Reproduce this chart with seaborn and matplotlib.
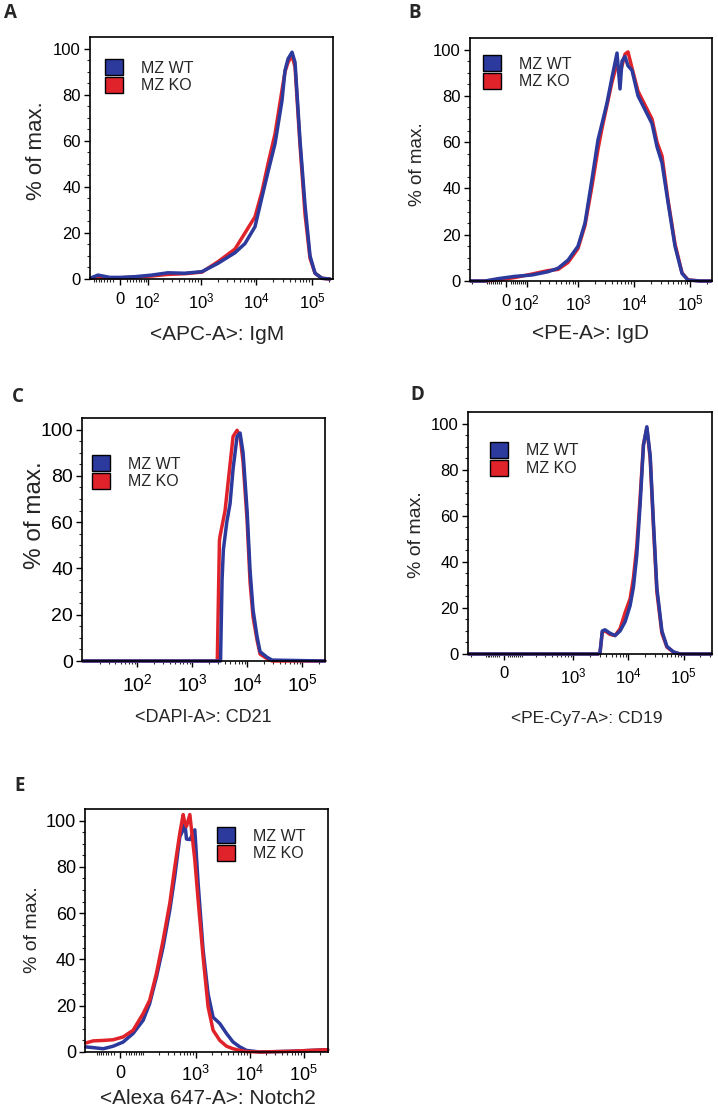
#!/usr/bin/env python3
# Flow histograms, MZ WT vs MZ KO, five markers

import pandas as pd
import seaborn as sns
import matplotlib.pyplot as plt
from matplotlib.patches import Patch

WT_COLOR = "#2b3a9c"
KO_COLOR = "#e0232a"

# A: <APC-A>: IgM
a_x = [-105, -73, -30, 0, 46, 122, 251, 517, 1050, 2040, 4130, 6260, 9470, 12660,
       16250, 21730, 29040, 32900, 37260, 43960, 49800, 61250, 75400, 92750,
       114100, 152600, 212000]
a_wt = [0.5, 1.7, 0.7, 0.7, 1.0, 1.7, 2.7, 2.5, 3.2, 6.8, 11.4, 15.4, 22.7, 35.6,
        46.5, 58.7, 77.5, 90.5, 95.5, 98.4, 94, 60, 32, 10, 2.5, 0.3, 0]
a_ko = [0.3, 0.8, 0.5, 0.5, 0.8, 1.3, 2.0, 2.3, 3.0, 7.5, 13, 20, 27, 38,
        50, 63, 82, 90, 94, 97, 92, 58, 28, 9, 2.5, 0.3, 0]

# B: <PE-A>: IgD
b_x = [-210, -101, -35, 39, 134, 283, 436, 662, 1000, 1337, 1784, 2285, 2694, 3310,
       4066, 4994, 5650, 6130, 6930, 7840, 9250, 11840, 15790, 21040, 25840, 31740,
       40620, 54160, 72200, 92350, 151300, 237800]
b_wt = [0, 0, 1, 2, 2.6, 4, 5.5, 9, 15, 25, 44, 61, 68, 77,
        88, 98.5, 83, 95, 97, 93, 91, 80, 74, 68, 58, 51,
        34, 15, 3.3, 0.4, 0, 0]
b_ko = [0, 0, 0.5, 1.5, 3, 4.5, 5, 8, 14, 24, 41, 57, 66, 76,
        86, 94, 90, 93, 98, 99, 92, 82, 76, 70, 60, 54,
        35, 16, 3.5, 0.5, 0, 0]

# C: <DAPI-A>: CD21
c_wt_x = [8, 3300, 3517, 3712, 4284, 4918, 5577, 6592, 7476, 8477, 10020, 11360,
          12880, 15230, 17270, 23150, 28550, 260000]
c_wt = [0, 0, 35, 48, 60, 68, 83, 97, 98.5, 90, 65, 39,
        22, 10.5, 4, 1.6, 0.4, 0]
c_ko_x = [8, 2880, 3150, 3234, 3990, 4522, 5577, 6592, 7476, 8477, 10020, 11360,
          12880, 15230, 17270, 23150, 28550, 260000]
c_ko = [0, 0, 52, 54, 65, 77, 97, 99.7, 97, 86, 61, 34,
        19, 9, 3, 1, 0, 0]

# D: <PE-Cy7-A>: CD19
d_x = [-225, 2814, 3058, 3366, 3770, 4653, 5731, 7073, 8723, 10750, 12340, 14220,
       16340, 18770, 21630, 24840, 28490, 32850, 40520, 49930, 65860, 87190, 320000]
d_wt = [0, 0, 0.5, 10, 10.5, 9, 8, 10, 14, 21, 29, 43,
        65, 90.6, 98.6, 86, 57, 28.6, 10, 3.3, 0.9, 0, 0]
d_ko = [0, 0, 0.5, 9.5, 10, 8.5, 8, 11, 18, 24, 33, 47,
        68, 91, 98, 85, 55, 27, 9, 3, 0.8, 0, 0]

# E: <Alexa 647-A>: Notch2
e_x = [-160, -111, -61, -23, 11, 47, 92, 130, 180, 244, 328, 408, 507, 585, 629,
       676, 780, 965, 1111, 1377, 1704, 2109, 2808, 3737, 4953, 6589, 8770, 15470,
       55460, 280000]
e_wt = [2.2, 1.9, 1.4, 2.5, 4.3, 8, 13.7, 21, 32.5, 45.5, 61.4, 76, 93, 96, 99,
        92, 91.8, 96, 73, 44, 25, 15, 12.3, 8, 4.3, 2.2, 0.7, 0,
        0.3, 1]
e_ko = [3.9, 4.8, 5, 5.3, 6.5, 9.4, 16.6, 22.4, 34, 48.4, 64.3, 80, 94.6, 102.6, 99,
        97.5, 102.6, 83, 65.8, 41, 19.5, 9.4, 5, 2.5, 1.4, 0.7, 0.2, 0,
        0.3, 1]

W, H = 718, 1113

# box = (left, top, right, bottom) in pixels; label positions are centres in pixels
panels = [
    dict(letter="A", label="<APC-A>: IgM", wt=(a_x, a_wt), ko=(a_x, a_ko),
         box=(90, 37, 333, 279), lw=70, xlim=(-111, 240400),
         ticks=[0, 100, 1000, 10000, 100000], leg=(0.062, 0.909), ko_top=False,
         letter_xy=(10, 13), xl_xy=(217, 334), yl_xy=(36, 151),
         xl_fs=15, yl_fs=16, tk_fs=12),
    dict(letter="B", label="<PE-A>: IgD", wt=(b_x, b_wt), ko=(b_x, b_ko),
         box=(470, 38, 712, 281), lw=104, xlim=(-216, 247600),
         ticks=[0, 100, 1000, 10000, 100000], leg=(0.054, 0.930), ko_top=False,
         letter_xy=(415, 13), xl_xy=(591, 333), yl_xy=(417, 164),
         xl_fs=15, yl_fs=13.6, tk_fs=12),
    dict(letter="C", label="<DAPI-A>: CD21", wt=(c_wt_x, c_wt), ko=(c_ko_x, c_ko),
         box=(82, 418, 325, 661), lw=10, xlim=(7.5, 261500),
         ticks=[100, 1000, 10000, 100000], leg=(0.041, 0.848), ko_top=False,
         letter_xy=(18, 397), xl_xy=(203, 718), yl_xy=(35, 515),
         xl_fs=13, yl_fs=17.5, tk_fs=14),
    dict(letter="D", label="<PE-Cy7-A>: CD19", wt=(d_x, d_wt), ko=(d_x, d_ko),
         box=(468, 412, 712, 654), lw=110, xlim=(-232, 328000),
         ticks=[0, 1000, 10000, 100000], leg=(0.090, 0.877), ko_top=False,
         letter_xy=(417, 395), xl_xy=(587, 718), yl_xy=(416.5, 535),
         xl_fs=12.5, yl_fs=14, tk_fs=12),
    dict(letter="E", label="<Alexa 647-A>: Notch2", wt=(e_x, e_wt), ko=(e_x, e_ko),
         box=(85, 809, 328, 1052), lw=79, xlim=(-166, 284000),
         ticks=[0, 1000, 10000, 100000], leg=(0.543, 0.926), ko_top=True,
         letter_xy=(20, 786), xl_xy=(208, 1098), yl_xy=(32.5, 930),
         xl_fs=15, yl_fs=14, tk_fs=13),
]


def tick_label(v):
    if v == 0:
        return "0"
    return "$10^{%d}$" % (len(str(int(v))) - 1)


def minor_ticks(lo, hi):
    out = []
    for k in range(1, 6):
        for m in range(2, 10):
            for v in (m * 10 ** k, -m * 10 ** k):
                if lo < v < hi:
                    out.append(v)
    return out


def draw_panel(fig, p):
    l, t, r, b = p["box"]
    aw, ah = r - l, b - t
    ax = fig.add_axes([l / W, 1 - b / H, aw / W, ah / H])
    ax.set_xscale("asinh", linear_width=p["lw"])

    series = [("MZ WT", p["wt"], WT_COLOR), ("MZ KO", p["ko"], KO_COLOR)]
    if not p["ko_top"]:
        series = series[::-1]
    for name, (xs, ys), color in series:
        df = pd.DataFrame({"x": xs, "y": ys})
        sns.lineplot(data=df, x="x", y="y", color=color, lw=2.5, sort=False,
                     estimator=None, ax=ax, clip_on=False, solid_joinstyle="round")

    ax.set_xlim(*p["xlim"])
    ax.set_ylim(0, 105)
    ax.set_yticks([0, 20, 40, 60, 80, 100])
    ax.set_yticks(list(range(0, 105, 5)), minor=True)
    ax.set_xticks(p["ticks"], [tick_label(v) for v in p["ticks"]])
    ax.set_xticks(minor_ticks(*p["xlim"]), minor=True)
    ax.tick_params(which="major", direction="out", length=4, width=1.0,
                   labelsize=p["tk_fs"], pad=2.5, colors="black")
    ax.tick_params(axis="x", which="major", pad=5)
    ax.tick_params(which="minor", direction="out", length=2.2, width=0.8)
    for s in ax.spines.values():
        s.set_linewidth(1.2)
        s.set_color("black")

    ax.set_xlabel(p["label"], fontsize=p["xl_fs"], va="center")
    ax.set_ylabel("% of max.", fontsize=p["yl_fs"], va="center")
    xx, xy = p["xl_xy"]
    ax.xaxis.set_label_coords((xx - l) / aw, 1 - (xy - t) / ah)
    yx, yy = p["yl_xy"]
    ax.yaxis.set_label_coords((yx - l) / aw, 1 - (yy - t) / ah)

    handles = [Patch(facecolor=WT_COLOR, edgecolor="black", lw=1.0),
               Patch(facecolor=KO_COLOR, edgecolor="black", lw=1.0)]
    ax.legend(handles, ["MZ WT", "MZ KO"], loc="upper left",
              bbox_to_anchor=p["leg"], frameon=False, borderpad=0,
              borderaxespad=0, handlelength=1.15, handleheight=1.2,
              labelspacing=0.08, handletextpad=1.1, fontsize=11.5)

    lx, ly = p["letter_xy"]
    fig.text(lx / W, 1 - ly / H, p["letter"], fontsize=13.5, fontweight="bold",
             family="Open Sans", ha="center", va="center")
    return ax


if __name__ == "__main__":
    sns.set_style("ticks")
    plt.rcParams["font.family"] = ["Liberation Sans", "DejaVu Sans"]
    plt.rcParams["mathtext.default"] = "regular"

    fig = plt.figure(figsize=(W / 100, H / 100), dpi=100)
    for p in panels:
        draw_panel(fig, p)
    fig.savefig("out.png", dpi=100)
